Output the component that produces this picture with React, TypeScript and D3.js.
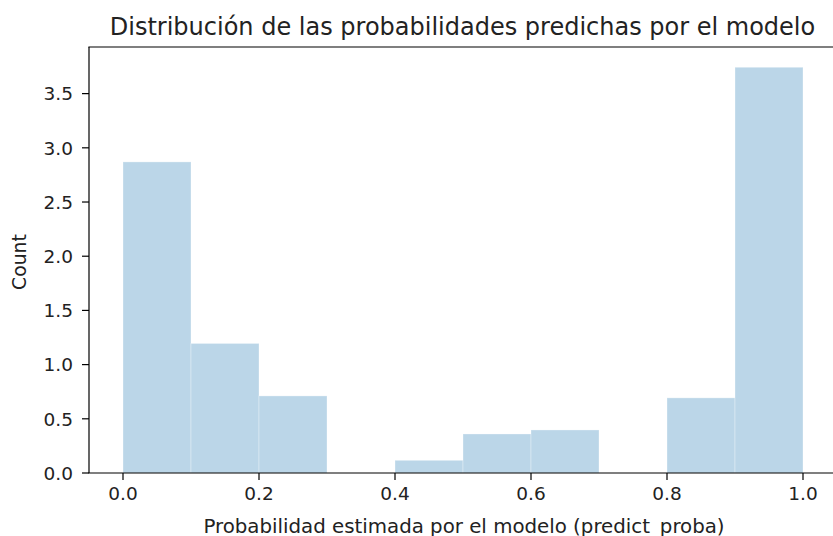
import React from "react";
import * as d3 from "d3";

const binEdges = [0, 0.1, 0.2, 0.3, 0.4, 0.5, 0.6, 0.7, 0.8, 0.9, 1.0];
const binValues = [2.87, 1.195, 0.711, 0, 0.117, 0.36, 0.397, 0, 0.693, 3.743];
const xTicks = [0, 0.2, 0.4, 0.6, 0.8, 1.0];
const yTicks = [0, 0.5, 1.0, 1.5, 2.0, 2.5, 3.0, 3.5];
const title = "Distribución de las probabilidades predichas por el modelo";
const xLabel = "Probabilidad estimada por el modelo (predict_proba)";
const yLabel = "Count";

const W = 833;
const H = 536;
const FONT = "'DejaVu Sans', sans-serif";

export default function App() {
  const left = 89;
  const right = 837;
  const top = 47;
  const bottom = 473;
  const x = d3.scaleLinear().domain([-0.05, 1.05]).range([left, right]);
  const yMax = (d3.max(binValues) as number) * 1.05;
  const y = d3.scaleLinear().domain([0, yMax]).range([bottom, top]);
  const bins = binValues.map((v, i) => ({ x0: binEdges[i], x1: binEdges[i + 1], v }));
  const tickColor = "#222";
  return (
    <svg
      width={W}
      height={H}
      style={{ position: "absolute", left: 0, top: 0, background: "#fff" }}
      fontFamily={FONT}
    >
      <rect x={0} y={0} width={W} height={H} fill="#fff" />
      {bins
        .filter((b) => b.v > 0)
        .map((b, i) => (
          <rect
            key={i}
            x={x(b.x0)}
            y={y(b.v)}
            width={x(b.x1) - x(b.x0)}
            height={y(0) - y(b.v)}
            fill="rgb(31,119,180)"
            fillOpacity={0.3}
            stroke="#ffffff"
            strokeOpacity={0.3}
            strokeWidth={1}
          />
        ))}
      {/* spines */}
      <line x1={left} x2={left} y1={top} y2={bottom} stroke="#000" strokeWidth={1.2} />
      <line x1={left - 0.6} x2={right} y1={bottom} y2={bottom} stroke="#000" strokeWidth={1.2} />
      <line x1={left - 0.6} x2={right} y1={top} y2={top} stroke="#000" strokeWidth={1.2} />
      <line x1={right} x2={right} y1={top} y2={bottom} stroke="#000" strokeWidth={1.2} />
      {/* x ticks */}
      {xTicks.map((t) => (
        <g key={"x" + t}>
          <line x1={x(t)} x2={x(t)} y1={bottom} y2={bottom + 7} stroke="#000" strokeWidth={1.2} />
          <text x={x(t)} y={499.5} textAnchor="middle" fontSize={18.5} fill={tickColor}>
            {t.toFixed(1)}
          </text>
        </g>
      ))}
      {/* y ticks */}
      {yTicks.map((t) => (
        <g key={"y" + t}>
          <line x1={left - 7} x2={left} y1={y(t)} y2={y(t)} stroke="#000" strokeWidth={1.2} />
          <text x={73} y={y(t) + 6.7} textAnchor="end" fontSize={18.5} fill={tickColor}>
            {t.toFixed(1)}
          </text>
        </g>
      ))}
      <text x={462.5} y={34.5} textAnchor="middle" fontSize={24} fill={tickColor}>
        {title}
      </text>
      <text x={464} y={532.5} textAnchor="middle" fontSize={19.8} fill={tickColor}>
        {xLabel}
      </text>
      <text
        transform={`translate(25.5,262) rotate(-90)`}
        textAnchor="middle"
        fontSize={18.8}
        fill={tickColor}
      >
        {yLabel}
      </text>
    </svg>
  );
}
